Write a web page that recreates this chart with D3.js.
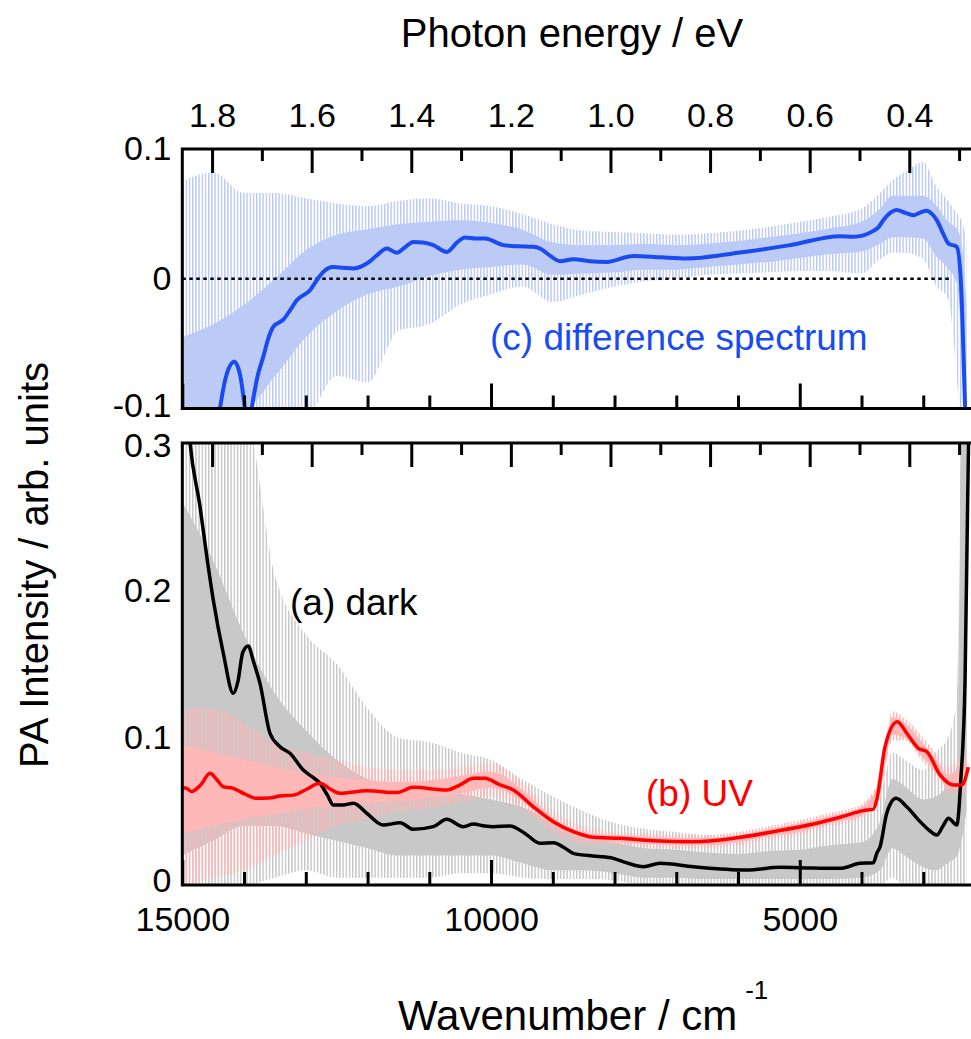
<!DOCTYPE html>
<html>
<head>
<meta charset="utf-8">
<title>PA spectra</title>
<style>
  body { margin: 0; background: white; }
  svg text { font-family: "Liberation Sans", Arial, sans-serif; fill: black; }
  .tick line { stroke: black; stroke-width: 3; }
  .domain { display: none; }
</style>
</head>
<body>
<svg id="chart" width="971" height="1039"></svg>
<script src="https://d3js.org/d3.v7.min.js"></script>
<script>
// smoothed curves, [wavenumber (cm-1), PA intensity]
var diffCurve = [[14550,-0.16],[14390,-0.1],[14290,-0.075],[14158,-0.064],[14060,-0.075],[13985,-0.1],[13930,-0.118],
  [13876,-0.1],[13780,-0.075],[13688,-0.060],[13600,-0.045],[13526,-0.037],[13364,-0.0315],[13250,-0.024],[13147,-0.0166],
  [12932,-0.0089],[12820,-0.001],[12716,0.0053],[12554,0.0091],[12400,0.0085],[12230,0.0079],[12013,0.0117],[11850,0.018],
  [11689,0.0233],[11527,0.020],[11400,0.024],[11259,0.0284],[11100,0.028],[10935,0.0259],[10718,0.0207],[10550,0.028],
  [10421,0.0318],[10250,0.031],[10097,0.031],[9801,0.0259],[9550,0.025],[9315,0.0246],[9208,0.0233],[9050,0.018],
  [8884,0.0135],[8667,0.015],[8400,0.0135],[8126,0.013],[7695,0.0176],[7250,0.0165],[6830,0.0156],[5967,0.0202],
  [5157,0.0259],[4347,0.0328],[4132,0.0323],[3808,0.0369],[3720,0.040],[3646,0.0452],[3530,0.051],[3429,0.0529],
  [3300,0.051],[3160,0.049],[3050,0.051],[2943,0.0524],[2860,0.050],[2781,0.0452],[2680,0.035],[2593,0.0272],
  [2457,0.0246],[2392,-0.001],[2323,-0.098],[2280,-0.16]];

var darkCurve = [[15000,0.37],[14875,0.30],[14713,0.2568],[14600,0.222],[14498,0.1934],[14336,0.1573],[14174,0.1301],
  [14100,0.138],[14020,0.158],[13931,0.1622],[13850,0.152],[13742,0.1369],[13580,0.103],[13418,0.0939],[13256,0.0894],
  [13040,0.078],[12900,0.0735],[12770,0.069],[12650,0.061],[12554,0.0543],[12400,0.0543],[12230,0.0555],[12013,0.0487],
  [11744,0.0407],[11474,0.0423],[11259,0.0378],[10935,0.0396],[10718,0.0446],[10449,0.0396],[10287,0.0414],[10100,0.040],
  [9963,0.0396],[9692,0.040],[9450,0.035],[9206,0.0283],[8991,0.0287],[8800,0.025],[8667,0.0215],[8300,0.0195],
  [8019,0.0181],[7800,0.015],[7533,0.0124],[7263,0.0147],[6723,0.0124],[5858,0.0102],[5319,0.012],[4800,0.0115],
  [4347,0.0113],[4023,0.0147],[3808,0.0151],[3753,0.0215],[3699,0.026],[3591,0.0487],[3440,0.0588],[3267,0.0531],
  [3051,0.043],[2900,0.037],[2781,0.0339],[2680,0.040],[2593,0.0453],[2457,0.0407],[2392,0.0713],[2323,0.139],[2260,0.32]];

var uvCurve = [[15000,0.066],[14929,0.0656],[14848,0.0634],[14700,0.068],[14551,0.0758],[14450,0.072],[14336,0.0667],
  [14174,0.0656],[14000,0.062],[13795,0.0588],[13600,0.059],[13418,0.0604],[13200,0.061],[12985,0.065],[12770,0.069],
  [12600,0.065],[12446,0.0622],[12013,0.064],[11527,0.0627],[11259,0.0663],[10718,0.0645],[10500,0.068],[10287,0.0724],
  [10100,0.0724],[9854,0.0679],[9639,0.0645],[9315,0.0531],[8991,0.043],[8667,0.0362],[8343,0.0324],[7911,0.0317],
  [7371,0.0301],[6723,0.0294],[6075,0.0317],[5428,0.0362],[4780,0.0414],[4347,0.046],[3970,0.0505],[3808,0.0515],
  [3753,0.0577],[3619,0.0939],[3419,0.1108],[3267,0.103],[3079,0.0928],[2943,0.0905],[2728,0.0747],[2512,0.0679],
  [2376,0.0679],[2269,0.080]];

// raw (noisy) spectra, as envelopes: outer spikes and dense core
var noiseW      = [15000,14500,14000,13500,13000,12500,12000,11500,11000,10500,10000,9500,9000,8500,8000,7500,7000,6500,6000,5500,5000,4500,4000,3700,3500,3300,3000,2800,2600,2450,2380,2300];
var diffOutLo   = [-0.12,-0.12,-0.12,-0.12,-0.11,-0.075,-0.08,-0.04,-0.035,-0.02,-0.012,-0.006,-0.018,-0.012,-0.006,-0.002,0.0,0.003,0.004,0.005,0.006,0.006,0.004,0.015,0.02,0.02,0.015,-0.005,-0.015,-0.08,-0.12,-0.12];
var diffCoreLo  = [-0.10,-0.10,-0.10,-0.075,-0.045,-0.025,-0.012,-0.006,0.002,0.007,0.009,0.011,0.003,0.004,0.005,0.007,0.007,0.009,0.011,0.013,0.016,0.019,0.021,0.027,0.032,0.032,0.031,0.018,0.008,-0.005,-0.05,-0.12];
var diffCoreHi  = [-0.045,-0.035,-0.02,0.0,0.022,0.034,0.038,0.042,0.044,0.045,0.043,0.038,0.028,0.026,0.026,0.027,0.026,0.027,0.029,0.032,0.035,0.039,0.044,0.054,0.064,0.064,0.064,0.057,0.044,0.038,0.028,-0.02];
var diffOutHi   = [0.075,0.082,0.066,0.066,0.062,0.058,0.056,0.06,0.062,0.058,0.056,0.05,0.042,0.037,0.036,0.035,0.034,0.035,0.037,0.04,0.044,0.048,0.054,0.066,0.076,0.082,0.09,0.072,0.06,0.05,0.045,0.03];

var darkOutLo   = [0.0,0.0,0.0,0.005,0.01,0.005,0.005,0.005,0.005,0.008,0.008,0.005,0.004,0.004,0.003,0.0,0.0,0.0,0.0,0.0,0.0,0.0,0.0,0.0,0.005,0.0,0.0,0.0,0.0,0.0,0.0,0.0];
var darkCoreLo  = [0.02,0.03,0.04,0.04,0.035,0.03,0.025,0.02,0.02,0.02,0.02,0.015,0.01,0.01,0.008,0.005,0.005,0.004,0.004,0.004,0.004,0.004,0.005,0.01,0.025,0.02,0.012,0.01,0.015,0.02,0.03,0.05];
var darkCoreHi  = [0.26,0.22,0.17,0.13,0.105,0.085,0.072,0.067,0.063,0.062,0.058,0.053,0.043,0.034,0.029,0.025,0.024,0.022,0.021,0.023,0.024,0.027,0.029,0.043,0.072,0.067,0.058,0.06,0.068,0.082,0.30,0.30];
var darkOutHi   = [0.32,0.32,0.32,0.21,0.17,0.15,0.12,0.10,0.097,0.09,0.085,0.072,0.06,0.05,0.042,0.038,0.036,0.034,0.034,0.036,0.038,0.042,0.048,0.06,0.09,0.085,0.078,0.09,0.10,0.13,0.32,0.32];

var uvOutLo     = [0.0,0.005,0.01,0.02,0.03,0.04,0.045,0.05,0.052,0.056,0.06,0.052,0.036,0.028,0.027,0.026,0.025,0.025,0.027,0.031,0.034,0.04,0.045,0.06,0.098,0.098,0.083,0.074,0.063,0.062,0.062,0.065];
var uvCoreLo    = [0.035,0.04,0.045,0.048,0.052,0.054,0.056,0.057,0.059,0.062,0.066,0.057,0.04,0.031,0.029,0.028,0.027,0.027,0.029,0.033,0.036,0.042,0.047,0.065,0.102,0.10,0.086,0.077,0.066,0.065,0.066,0.07];
var uvCoreHi    = [0.095,0.09,0.085,0.08,0.076,0.073,0.071,0.07,0.071,0.074,0.077,0.065,0.046,0.036,0.034,0.033,0.032,0.032,0.034,0.038,0.042,0.047,0.053,0.072,0.114,0.11,0.096,0.086,0.075,0.078,0.08,0.085];
var uvOutHi     = [0.12,0.12,0.11,0.096,0.09,0.085,0.08,0.078,0.078,0.08,0.082,0.07,0.05,0.04,0.036,0.035,0.034,0.034,0.036,0.04,0.044,0.049,0.055,0.075,0.118,0.113,0.10,0.09,0.08,0.085,0.088,0.09];

// ticks
var eVMajor = [1.8,1.6,1.4,1.2,1.0,0.8,0.6,0.4];
var eVMinor = [1.7,1.5,1.3,1.1,0.9,0.7,0.5,0.3];
var wnMajor = [15000,10000,5000];
var wnMinor = [14000,13000,12000,11000,9000,8000,7000,6000,4000,3000];
var topYTicks = [0.1,0,-0.1];
var botYTicks = [0.3,0.2,0.1,0];
var zeroLine = [15000,2550];
var cmPerEV = 8065.54;

var svg = d3.select("#chart");

var left = 182.3, right = 985;
var x = d3.scaleLinear().domain([15000,2000]).range([left,right]);
var xe = d3.scaleLinear().domain([15000/cmPerEV, 2000/cmPerEV]).range([left,right]);
var yTop = d3.scaleLinear().domain([-0.1,0.1]).range([408.5,149]);
var yBot = d3.scaleLinear().domain([0,0.3]).range([885,443]);

var yFmt = function(d) { return d === 0 ? "0" : d.toFixed(1); };

var defs = svg.append("defs");
function stripes(id, color) {
  var p = defs.append("pattern").attr("id", id).attr("patternUnits","userSpaceOnUse")
    .attr("width", 3.2).attr("height", 10);
  p.append("rect").attr("x",0).attr("y",0).attr("width",1.4).attr("height",10).attr("fill",color);
}
stripes("stripeBlue", "#b9c9f6");
stripes("stripeGray", "#c6c6c6");
stripes("stripePink", "#ffb4b4");

function clip(id, y) {
  defs.append("clipPath").attr("id", id).append("rect")
    .attr("x", left).attr("y", y.range()[1]).attr("width", right-left).attr("height", y.range()[0]-y.range()[1]);
}
clip("clipTop", yTop);
clip("clipBot", yBot);

function band(g, y, lo, hi, fill) {
  var pts = noiseW.map(function(w,i){ return {w:w, lo:lo[i], hi:hi[i]}; });
  g.append("path").datum(pts)
    .attr("d", d3.area().x(function(d){return x(d.w);}).y0(function(d){return y(d.lo);})
      .y1(function(d){return y(d.hi);}).curve(d3.curveMonotoneX))
    .attr("fill", fill);
}
function curve(g, y, data, color, w) {
  g.append("path").datum(data)
    .attr("d", d3.line().x(function(d){return x(d[0]);}).y(function(d){return y(d[1]);}).curve(d3.curveMonotoneX))
    .attr("fill","none").attr("stroke",color).attr("stroke-width",w).attr("stroke-linejoin","round");
}

// ---- top panel: difference spectrum ----
var gT = svg.append("g").attr("clip-path","url(#clipTop)");
band(gT, yTop, diffOutLo, diffOutHi, "url(#stripeBlue)");
band(gT, yTop, diffCoreLo, diffCoreHi, "#bccbf6");
gT.append("line")
  .attr("x1", x(zeroLine[0])).attr("x2", x(zeroLine[1]))
  .attr("y1", yTop(0)).attr("y2", yTop(0))
  .attr("stroke","black").attr("stroke-width",2.5).attr("stroke-dasharray","3.5,3.5");
curve(gT, yTop, diffCurve, "#1a4bf0", 4);

// ---- bottom panel: dark and UV ----
var gB = svg.append("g").attr("clip-path","url(#clipBot)");
band(gB, yBot, darkOutLo, darkOutHi, "url(#stripeGray)");
band(gB, yBot, darkCoreLo, darkCoreHi, "#c8c8c8");
band(gB, yBot, uvOutLo, uvOutHi, "url(#stripePink)");
band(gB, yBot, uvCoreLo, uvCoreHi, "#ffb8b8");
curve(gB, yBot, darkCurve, "black", 3.5);
curve(gB, yBot, uvCurve, "#ff0000", 3.5);

// ---- frames and axes ----
function panelAxes(y, yTicks, labelTop, labelBottom, nudge) {
  var y0 = y.range()[1], y1 = y.range()[0];
  svg.append("rect").attr("x",left).attr("y",y0).attr("width",right-left).attr("height",y1-y0)
    .attr("fill","none").attr("stroke","black").attr("stroke-width",3);

  var gt = svg.append("g").attr("transform","translate(0,"+y0+")");
  gt.call(d3.axisTop(xe).tickValues(eVMinor).tickSize(-12).tickFormat(""));
  var gtm = svg.append("g").attr("transform","translate(0,"+y0+")");
  gtm.call(d3.axisTop(xe).tickValues(eVMajor).tickSize(-24).tickPadding(22)
    .tickFormat(labelTop ? d3.format(".1f") : ""));

  var gb = svg.append("g").attr("transform","translate(0,"+y1+")");
  gb.call(d3.axisBottom(x).tickValues(wnMinor).tickSize(-13).tickFormat(""));
  var gbm = svg.append("g").attr("transform","translate(0,"+y1+")");
  gbm.call(d3.axisBottom(x).tickValues(wnMajor).tickSize(-25).tickPadding(22)
    .tickFormat(labelBottom ? d3.format("d") : ""));

  var gl = svg.append("g").attr("transform","translate("+left+",0)");
  gl.call(d3.axisLeft(y).tickValues(yTicks).tickSize(0).tickPadding(11).tickFormat(yFmt));
  // keep the edge labels of stacked panels apart
  gl.selectAll(".tick text").attr("y", function(d) { return nudge(d); });

  svg.selectAll(".tick text").attr("font-size",34).attr("fill","black")
    .style("font-family","'Liberation Sans', Arial, sans-serif");
}
panelAxes(yTop, topYTicks, true, false, function(d){ return d === -0.1 ? -3 : 0; });
panelAxes(yBot, botYTicks, false, true, function(d){ return d === 0.3 ? 3 : (d === 0 ? -4 : 0); });

// ---- titles and labels ----
svg.append("text").attr("x",572).attr("y",47).attr("text-anchor","middle")
  .attr("font-size",40).text("Photon energy / eV");

var xt = svg.append("text").attr("x",398).attr("y",1030).attr("font-size",42);
xt.append("tspan").text("Wavenumber / cm");
xt.append("tspan").attr("dy",-31).attr("dx",8).attr("font-size",26).text("-1");

svg.append("text").attr("transform","translate(48,565) rotate(-90)").attr("text-anchor","middle")
  .attr("font-size",40).text("PA Intensity / arb. units");

svg.append("text").attr("x",490).attr("y",350).attr("font-size",37).style("fill","#1a4bf0")
  .text("(c) difference spectrum");
svg.append("text").attr("x",290).attr("y",615).attr("font-size",37).text("(a) dark");
svg.append("text").attr("x",646).attr("y",806).attr("font-size",37).style("fill","#ff0000").text("(b) UV");
</script>
</body>
</html>
